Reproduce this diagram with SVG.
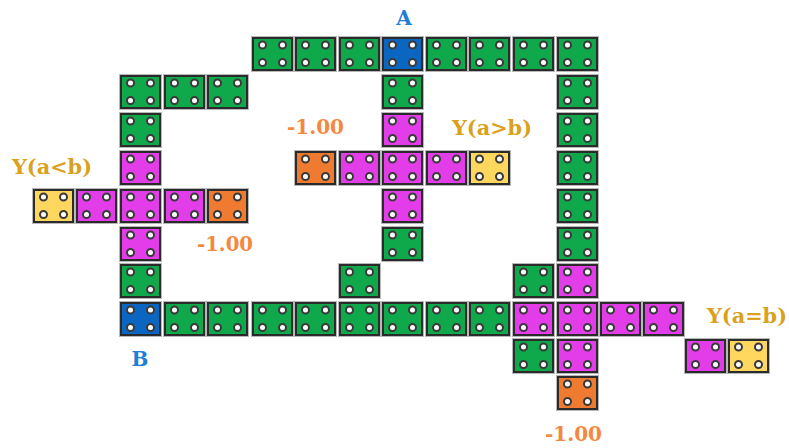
<svg xmlns="http://www.w3.org/2000/svg" xmlns:xlink="http://www.w3.org/1999/xlink" width="789" height="448" viewBox="0 0 789 448">
<style>
.g{fill:#0fa84b}.b{fill:#0b66c2}.m{fill:#e23de8}.o{fill:#ee7b30}.y{fill:#ffd75e}
.ab{fill:#1f7fd6}.gold{fill:#d9a11c}.neg{fill:#f5883f}
</style>
<defs>
<symbol id="tile" overflow="visible">
<rect x="-0.5" y="-0.5" width="42" height="35" fill="none" stroke="#b8b8b8" stroke-width="1"/>
<rect x="1" y="1" width="39" height="32" stroke="#2b2b2b" stroke-width="2"/>
<g fill="#ffffff" stroke="#3a3a3a" stroke-width="2">
<circle cx="10.5" cy="8" r="3.5"/><circle cx="30.5" cy="8" r="3.5"/>
<circle cx="10.5" cy="25.5" r="3.5"/><circle cx="30.5" cy="25.5" r="3.5"/>
</g>
</symbol>
</defs>
<rect width="789" height="448" fill="#ffffff"/>
<g id="tiles">
<g id="t-r0-c5"><use xlink:href="#tile" x="252" y="37" class="g"/></g>
<g id="t-r0-c6"><use xlink:href="#tile" x="295" y="37" class="g"/></g>
<g id="t-r0-c7"><use xlink:href="#tile" x="339" y="37" class="g"/></g>
<g id="t-A"><use xlink:href="#tile" x="382" y="37" class="b"/></g>
<g id="t-r0-c9"><use xlink:href="#tile" x="426" y="37" class="g"/></g>
<g id="t-r0-c10"><use xlink:href="#tile" x="469" y="37" class="g"/></g>
<g id="t-r0-c11"><use xlink:href="#tile" x="513" y="37" class="g"/></g>
<g id="t-r0-c12"><use xlink:href="#tile" x="557" y="37" class="g"/></g>
<g id="t-r1-c2"><use xlink:href="#tile" x="120" y="75" class="g"/></g>
<g id="t-r1-c3"><use xlink:href="#tile" x="164" y="75" class="g"/></g>
<g id="t-r1-c4"><use xlink:href="#tile" x="207" y="75" class="g"/></g>
<g id="t-r1-c8"><use xlink:href="#tile" x="382" y="75" class="g"/></g>
<g id="t-r1-c12"><use xlink:href="#tile" x="557" y="75" class="g"/></g>
<g id="t-r2-c2"><use xlink:href="#tile" x="120" y="113" class="g"/></g>
<g id="t-r2-c8"><use xlink:href="#tile" x="382" y="113" class="m"/></g>
<g id="t-r2-c12"><use xlink:href="#tile" x="557" y="113" class="g"/></g>
<g id="t-r3-c2"><use xlink:href="#tile" x="120" y="151" class="m"/></g>
<g id="t-r3-c6"><use xlink:href="#tile" x="295" y="151" class="o"/></g>
<g id="t-r3-c7"><use xlink:href="#tile" x="339" y="151" class="m"/></g>
<g id="t-r3-c8"><use xlink:href="#tile" x="382" y="151" class="m"/></g>
<g id="t-r3-c9"><use xlink:href="#tile" x="426" y="151" class="m"/></g>
<g id="t-r3-c10"><use xlink:href="#tile" x="469" y="151" class="y"/></g>
<g id="t-r3-c12"><use xlink:href="#tile" x="557" y="151" class="g"/></g>
<g id="t-r4-c0"><use xlink:href="#tile" x="33" y="189" class="y"/></g>
<g id="t-r4-c1"><use xlink:href="#tile" x="76" y="189" class="m"/></g>
<g id="t-r4-c2"><use xlink:href="#tile" x="120" y="189" class="m"/></g>
<g id="t-r4-c3"><use xlink:href="#tile" x="164" y="189" class="m"/></g>
<g id="t-r4-c4"><use xlink:href="#tile" x="207" y="189" class="o"/></g>
<g id="t-r4-c8"><use xlink:href="#tile" x="382" y="189" class="m"/></g>
<g id="t-r4-c12"><use xlink:href="#tile" x="557" y="189" class="g"/></g>
<g id="t-r5-c2"><use xlink:href="#tile" x="120" y="227" class="m"/></g>
<g id="t-r5-c8"><use xlink:href="#tile" x="382" y="227" class="g"/></g>
<g id="t-r5-c12"><use xlink:href="#tile" x="557" y="227" class="g"/></g>
<g id="t-r6-c2"><use xlink:href="#tile" x="120" y="264" class="g"/></g>
<g id="t-r6-c7"><use xlink:href="#tile" x="339" y="264" class="g"/></g>
<g id="t-r6-c11"><use xlink:href="#tile" x="513" y="264" class="g"/></g>
<g id="t-r6-c12"><use xlink:href="#tile" x="557" y="264" class="m"/></g>
<g id="t-B"><use xlink:href="#tile" x="120" y="302" class="b"/></g>
<g id="t-r7-c3"><use xlink:href="#tile" x="164" y="302" class="g"/></g>
<g id="t-r7-c4"><use xlink:href="#tile" x="207" y="302" class="g"/></g>
<g id="t-r7-c5"><use xlink:href="#tile" x="252" y="302" class="g"/></g>
<g id="t-r7-c6"><use xlink:href="#tile" x="295" y="302" class="g"/></g>
<g id="t-r7-c7"><use xlink:href="#tile" x="339" y="302" class="g"/></g>
<g id="t-r7-c8"><use xlink:href="#tile" x="382" y="302" class="g"/></g>
<g id="t-r7-c9"><use xlink:href="#tile" x="426" y="302" class="g"/></g>
<g id="t-r7-c10"><use xlink:href="#tile" x="469" y="302" class="g"/></g>
<g id="t-r7-c11"><use xlink:href="#tile" x="513" y="302" class="m"/></g>
<g id="t-r7-c12"><use xlink:href="#tile" x="557" y="302" class="m"/></g>
<g id="t-r7-c13"><use xlink:href="#tile" x="600" y="302" class="m"/></g>
<g id="t-r7-c14"><use xlink:href="#tile" x="643" y="302" class="m"/></g>
<g id="t-r8-c11"><use xlink:href="#tile" x="513" y="339" class="g"/></g>
<g id="t-r8-c12"><use xlink:href="#tile" x="557" y="339" class="m"/></g>
<g id="t-r8-c15"><use xlink:href="#tile" x="685" y="339" class="m"/></g>
<g id="t-r8-c16"><use xlink:href="#tile" x="728" y="339" class="y"/></g>
<g id="t-r9-c12"><use xlink:href="#tile" x="557" y="376" class="o"/></g>
</g>
<g id="labels" font-family="DejaVu Serif, serif" font-weight="bold" font-size="20">
<text id="lbl-A" class="ab" x="404" y="25" text-anchor="middle">A</text>
<text id="lbl-B" class="ab" x="140" y="366" text-anchor="middle">B</text>
<text id="lbl-neg-mid" class="neg" x="287" y="134" textLength="57" lengthAdjust="spacingAndGlyphs">-1.00</text>
<text id="lbl-neg-left" class="neg" x="197" y="251" textLength="56" lengthAdjust="spacingAndGlyphs">-1.00</text>
<text id="lbl-neg-bot" class="neg" x="545" y="441" textLength="57" lengthAdjust="spacingAndGlyphs">-1.00</text>
<text id="lbl-gt" class="gold" x="452" y="135" textLength="80" lengthAdjust="spacingAndGlyphs">Y(a&gt;b)</text>
<text id="lbl-lt" class="gold" x="12" y="174" textLength="80" lengthAdjust="spacingAndGlyphs">Y(a&lt;b)</text>
<text id="lbl-eq" class="gold" x="707" y="323" textLength="80" lengthAdjust="spacingAndGlyphs">Y(a=b)</text>
</g>
</svg>
